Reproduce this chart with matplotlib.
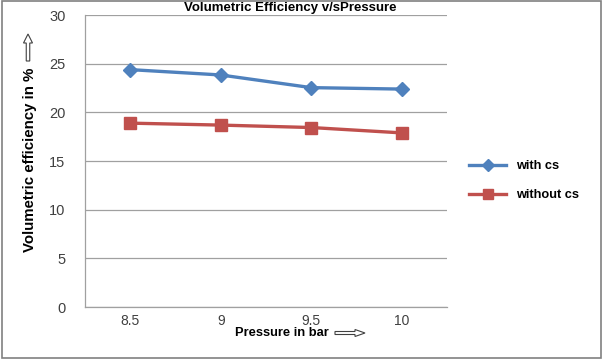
import matplotlib
matplotlib.use("Agg")
import matplotlib.pyplot as plt
from matplotlib.patches import Rectangle, FancyArrow
from matplotlib.transforms import IdentityTransform

plt.rcParams['font.family'] = ['Liberation Sans', 'DejaVu Sans']

categories = ["8.5", "9", "9.5", "10"]
with_cs = [24.4, 23.85, 22.55, 22.4]
without_cs = [18.9, 18.7, 18.45, 17.9]
yticks = [0, 5, 10, 15, 20, 25, 30]

W, H = 603, 360
fig = plt.figure(figsize=(W / 100, H / 100), dpi=100)
fig.patch.set_facecolor("white")
fig.patches.append(Rectangle((0.003, 0.006), 0.994, 0.99, transform=fig.transFigure,
                             fill=False, edgecolor="#808080", linewidth=1.2))

ax = fig.add_axes([0.141, 0.147, 0.600, 0.811])
x = list(range(len(categories)))
ax.plot(x, with_cs, color="#4F81BD", linewidth=2.4, marker="D", markersize=7,
        label="with cs", zorder=3)
ax.plot(x, without_cs, color="#C0504D", linewidth=2.4, marker="s", markersize=8,
        label="without cs", zorder=3)

ax.set_xlim(-0.5, len(categories) - 0.5)
ax.set_ylim(0, 30)
ax.set_yticks(yticks)
ax.set_xticks(x)
ax.set_xticklabels(categories)
ax.tick_params(axis="y", length=0, labelsize=10.5, colors="#404040", pad=14)
ax.tick_params(axis="x", length=0, labelsize=10, colors="#404040", pad=5)
ax.yaxis.grid(True, color="#a0a0a0", linewidth=0.9)
ax.set_axisbelow(True)
for s in ["top", "right"]:
    ax.spines[s].set_visible(False)
for s in ["left", "bottom"]:
    ax.spines[s].set_color("#a0a0a0")
    ax.spines[s].set_linewidth(0.9)

fig.text(0.481, 0.978, "Volumetric Efficiency v/sPressure", ha="center", va="center",
         fontsize=9.5, fontweight="bold")
fig.text(30 / W, 1 - 160 / H, "Volumetric efficiency in %", rotation=90, ha="center",
         va="center", fontsize=10.8, fontweight="bold")
fig.text(282 / W, 1 - 333 / H, "Pressure in bar", ha="center", va="center",
         fontsize=9.3, fontweight="bold")

# outline arrows (pixel coordinates, origin at bottom-left)
up = FancyArrow(28, H - 61, 0, 27, width=3.5, head_width=9, head_length=9,
                length_includes_head=True, facecolor="white", edgecolor="#404040",
                linewidth=0.8, transform=IdentityTransform())
right = FancyArrow(335, H - 333, 30, 0, width=3.0, head_width=7, head_length=10,
                   length_includes_head=True, facecolor="white", edgecolor="#404040",
                   linewidth=0.8, transform=IdentityTransform())
fig.patches.extend([up, right])

leg = ax.legend(loc="center left", bbox_to_anchor=(1.03, 0.433), frameon=False,
                fontsize=9.2, labelspacing=1.35, handlelength=2.9, markerscale=0.85)
for t in leg.get_texts():
    t.set_fontweight("bold")

fig.savefig("out.png", dpi=100)
